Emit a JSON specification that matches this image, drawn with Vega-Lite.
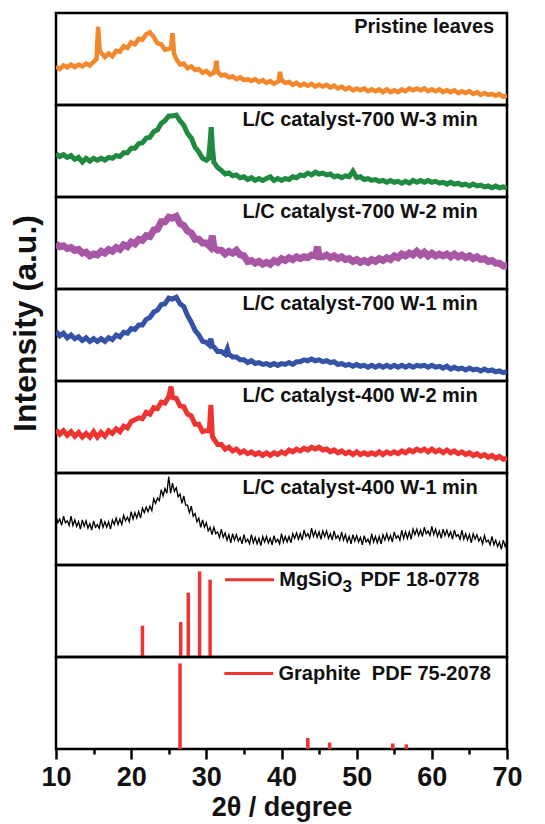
{
"$schema": "https://vega.github.io/schema/vega-lite/v6.json",
"autosize": {"type": "pad"},
"padding": {"left": 7, "top": 11, "right": 0, "bottom": 0},
"spacing": 0,
"bounds": "flush",
"config": {"view": {"stroke": "black", "strokeWidth": 2.5}, "font": "Liberation Sans", "concat": {"spacing": 0}},
"datasets": {
"p1": [{"x":10,"y":42},{"x":10.5,"y":39},{"x":11,"y":43},{"x":11.5,"y":41},{"x":12,"y":44},{"x":12.5,"y":41},{"x":13,"y":44},{"x":13.5,"y":42},{"x":14,"y":45},{"x":14.5,"y":43},{"x":15,"y":47},{"x":15.4,"y":50},{"x":15.6,"y":85},{"x":15.8,"y":60},{"x":16,"y":57},{"x":16.5,"y":52},{"x":17,"y":56},{"x":17.5,"y":53},{"x":18,"y":59},{"x":18.5,"y":58},{"x":19,"y":64},{"x":19.5,"y":62},{"x":20,"y":68},{"x":20.5,"y":66},{"x":21,"y":72},{"x":21.5,"y":71},{"x":22,"y":77},{"x":22.5,"y":79},{"x":23,"y":74},{"x":23.5,"y":67},{"x":24,"y":66},{"x":24.5,"y":60},{"x":25,"y":61},{"x":25.3,"y":62},{"x":25.5,"y":78},{"x":25.7,"y":56},{"x":26,"y":50},{"x":26.5,"y":44},{"x":27,"y":45},{"x":27.5,"y":40},{"x":28,"y":42},{"x":28.5,"y":38},{"x":29,"y":39},{"x":29.5,"y":35},{"x":30,"y":37},{"x":30.5,"y":33},{"x":31,"y":35},{"x":31.2,"y":40},{"x":31.35,"y":48},{"x":31.5,"y":36},{"x":32,"y":32},{"x":32.5,"y":33},{"x":33,"y":30},{"x":33.5,"y":31},{"x":34,"y":28},{"x":34.5,"y":30},{"x":35,"y":27},{"x":35.5,"y":28},{"x":36,"y":26},{"x":36.5,"y":28},{"x":37,"y":25},{"x":37.5,"y":27},{"x":38,"y":24},{"x":38.5,"y":26},{"x":39,"y":23},{"x":39.6,"y":26},{"x":39.8,"y":36},{"x":40,"y":27},{"x":40.5,"y":24},{"x":41,"y":25},{"x":41.5,"y":22},{"x":42,"y":24},{"x":42.5,"y":21},{"x":43,"y":23},{"x":43.5,"y":21},{"x":44,"y":23},{"x":44.5,"y":20},{"x":45,"y":22},{"x":45.5,"y":20},{"x":46,"y":22},{"x":46.5,"y":19},{"x":47,"y":21},{"x":47.5,"y":18},{"x":48,"y":20},{"x":48.5,"y":17},{"x":49,"y":19},{"x":49.5,"y":16},{"x":50,"y":18},{"x":50.5,"y":16},{"x":51,"y":18},{"x":51.5,"y":15},{"x":52,"y":17},{"x":52.5,"y":15},{"x":53,"y":17},{"x":53.5,"y":14},{"x":54,"y":17},{"x":54.5,"y":14},{"x":55,"y":16},{"x":55.5,"y":14},{"x":56,"y":17},{"x":56.5,"y":15},{"x":57,"y":18},{"x":57.5,"y":16},{"x":58,"y":18},{"x":58.5,"y":16},{"x":59,"y":18},{"x":59.5,"y":15},{"x":60,"y":17},{"x":60.5,"y":15},{"x":61,"y":17},{"x":61.5,"y":14},{"x":62,"y":16},{"x":62.5,"y":14},{"x":63,"y":16},{"x":63.5,"y":13},{"x":64,"y":15},{"x":64.5,"y":13},{"x":65,"y":15},{"x":65.5,"y":12},{"x":66,"y":14},{"x":66.5,"y":11},{"x":67,"y":13},{"x":67.5,"y":11},{"x":68,"y":12},{"x":68.5,"y":10},{"x":69,"y":12},{"x":69.5,"y":9},{"x":70,"y":10}],
"p2": [{"x":10,"y":47},{"x":10.5,"y":44},{"x":11,"y":46},{"x":11.5,"y":43},{"x":12,"y":45},{"x":12.5,"y":41},{"x":13,"y":43},{"x":13.5,"y":38},{"x":14,"y":42},{"x":14.5,"y":39},{"x":15,"y":42},{"x":15.5,"y":40},{"x":16,"y":42},{"x":16.5,"y":40},{"x":17,"y":43},{"x":17.5,"y":42},{"x":18,"y":45},{"x":18.5,"y":44},{"x":19,"y":48},{"x":19.5,"y":48},{"x":20,"y":53},{"x":20.5,"y":53},{"x":21,"y":58},{"x":21.5,"y":59},{"x":22,"y":64},{"x":22.5,"y":65},{"x":23,"y":71},{"x":23.5,"y":73},{"x":24,"y":80},{"x":24.5,"y":83},{"x":25,"y":88},{"x":25.5,"y":88},{"x":26,"y":89},{"x":26.5,"y":83},{"x":27,"y":78},{"x":27.5,"y":69},{"x":28,"y":64},{"x":28.5,"y":54},{"x":29,"y":49},{"x":29.5,"y":42},{"x":30,"y":40},{"x":30.3,"y":42},{"x":30.5,"y":60},{"x":30.65,"y":76},{"x":30.8,"y":55},{"x":31,"y":38},{"x":31.5,"y":32},{"x":32,"y":29},{"x":32.5,"y":25},{"x":33,"y":26},{"x":33.5,"y":23},{"x":34,"y":24},{"x":34.5,"y":21},{"x":35,"y":22},{"x":35.5,"y":19},{"x":36,"y":21},{"x":36.5,"y":18},{"x":37,"y":20},{"x":37.5,"y":18},{"x":38,"y":20},{"x":38.5,"y":22},{"x":39,"y":18},{"x":39.5,"y":20},{"x":40,"y":18},{"x":40.5,"y":20},{"x":41,"y":19},{"x":41.5,"y":22},{"x":42,"y":21},{"x":42.5,"y":24},{"x":43,"y":23},{"x":43.5,"y":26},{"x":44,"y":24},{"x":44.5,"y":27},{"x":45,"y":25},{"x":45.5,"y":26},{"x":46,"y":24},{"x":46.5,"y":25},{"x":47,"y":22},{"x":47.5,"y":23},{"x":48,"y":21},{"x":48.5,"y":23},{"x":49,"y":22},{"x":49.5,"y":28},{"x":50,"y":21},{"x":50.5,"y":22},{"x":51,"y":19},{"x":51.5,"y":20},{"x":52,"y":18},{"x":52.5,"y":19},{"x":53,"y":17},{"x":53.5,"y":18},{"x":54,"y":16},{"x":54.5,"y":18},{"x":55,"y":16},{"x":55.5,"y":17},{"x":56,"y":15},{"x":56.5,"y":17},{"x":57,"y":15},{"x":57.5,"y":18},{"x":58,"y":16},{"x":58.5,"y":18},{"x":59,"y":16},{"x":59.5,"y":18},{"x":60,"y":16},{"x":60.5,"y":17},{"x":61,"y":15},{"x":61.5,"y":16},{"x":62,"y":14},{"x":62.5,"y":16},{"x":63,"y":14},{"x":63.5,"y":15},{"x":64,"y":13},{"x":64.5,"y":14},{"x":65,"y":12},{"x":65.5,"y":14},{"x":66,"y":12},{"x":66.5,"y":13},{"x":67,"y":11},{"x":67.5,"y":12},{"x":68,"y":10},{"x":68.5,"y":12},{"x":69,"y":10},{"x":69.5,"y":11},{"x":70,"y":10}],
"p3": [{"x":10,"y":49},{"x":10.5,"y":46},{"x":11,"y":47},{"x":11.5,"y":44},{"x":12,"y":45},{"x":12.5,"y":42},{"x":13,"y":43},{"x":13.5,"y":39},{"x":14,"y":40},{"x":14.5,"y":36},{"x":15,"y":38},{"x":15.5,"y":37},{"x":16,"y":41},{"x":16.5,"y":39},{"x":17,"y":43},{"x":17.5,"y":41},{"x":18,"y":45},{"x":18.5,"y":43},{"x":19,"y":48},{"x":19.5,"y":46},{"x":20,"y":51},{"x":20.5,"y":49},{"x":21,"y":54},{"x":21.5,"y":53},{"x":22,"y":58},{"x":22.5,"y":57},{"x":23,"y":64},{"x":23.5,"y":65},{"x":24,"y":73},{"x":24.5,"y":73},{"x":25,"y":78},{"x":25.5,"y":77},{"x":26,"y":79},{"x":26.5,"y":71},{"x":27,"y":69},{"x":27.5,"y":63},{"x":28,"y":61},{"x":28.5,"y":54},{"x":29,"y":54},{"x":29.5,"y":50},{"x":30,"y":50},{"x":30.5,"y":46},{"x":30.8,"y":58},{"x":31,"y":45},{"x":31.5,"y":42},{"x":32,"y":42},{"x":32.5,"y":38},{"x":33,"y":41},{"x":33.5,"y":39},{"x":34,"y":42},{"x":34.5,"y":37},{"x":35,"y":36},{"x":35.5,"y":30},{"x":36,"y":31},{"x":36.5,"y":28},{"x":37,"y":30},{"x":37.5,"y":27},{"x":38,"y":29},{"x":38.5,"y":27},{"x":39,"y":31},{"x":39.5,"y":29},{"x":40,"y":33},{"x":40.5,"y":31},{"x":41,"y":34},{"x":41.5,"y":32},{"x":42,"y":35},{"x":42.5,"y":33},{"x":43,"y":35},{"x":43.5,"y":34},{"x":44,"y":37},{"x":44.5,"y":36},{"x":44.8,"y":46},{"x":45,"y":35},{"x":45.5,"y":35},{"x":46,"y":37},{"x":46.5,"y":34},{"x":47,"y":36},{"x":47.5,"y":33},{"x":48,"y":35},{"x":48.5,"y":32},{"x":49,"y":33},{"x":49.5,"y":30},{"x":50,"y":32},{"x":50.5,"y":29},{"x":51,"y":31},{"x":51.5,"y":29},{"x":52,"y":32},{"x":52.5,"y":30},{"x":53,"y":33},{"x":53.5,"y":31},{"x":54,"y":34},{"x":54.5,"y":32},{"x":55,"y":36},{"x":55.5,"y":34},{"x":56,"y":38},{"x":56.5,"y":36},{"x":57,"y":39},{"x":57.5,"y":37},{"x":58,"y":41},{"x":58.5,"y":37},{"x":59,"y":40},{"x":59.5,"y":36},{"x":60,"y":39},{"x":60.5,"y":36},{"x":61,"y":38},{"x":61.5,"y":36},{"x":62,"y":38},{"x":62.5,"y":35},{"x":63,"y":38},{"x":63.5,"y":35},{"x":64,"y":37},{"x":64.5,"y":34},{"x":65,"y":36},{"x":65.5,"y":33},{"x":66,"y":35},{"x":66.5,"y":32},{"x":67,"y":33},{"x":67.5,"y":30},{"x":68,"y":31},{"x":68.5,"y":28},{"x":69,"y":28},{"x":69.5,"y":25},{"x":70,"y":25}],
"p4": [{"x":10,"y":54},{"x":10.5,"y":49},{"x":11,"y":52},{"x":11.5,"y":47},{"x":12,"y":50},{"x":12.5,"y":46},{"x":13,"y":48},{"x":13.5,"y":44},{"x":14,"y":47},{"x":14.5,"y":43},{"x":15,"y":46},{"x":15.5,"y":43},{"x":16,"y":46},{"x":16.5,"y":43},{"x":17,"y":47},{"x":17.5,"y":45},{"x":18,"y":50},{"x":18.5,"y":48},{"x":19,"y":53},{"x":19.5,"y":52},{"x":20,"y":57},{"x":20.5,"y":56},{"x":21,"y":61},{"x":21.5,"y":61},{"x":22,"y":67},{"x":22.5,"y":69},{"x":23,"y":75},{"x":23.5,"y":77},{"x":24,"y":83},{"x":24.5,"y":84},{"x":25,"y":90},{"x":25.5,"y":89},{"x":26,"y":91},{"x":26.5,"y":84},{"x":27,"y":81},{"x":27.5,"y":71},{"x":28,"y":64},{"x":28.5,"y":55},{"x":29,"y":50},{"x":29.5,"y":43},{"x":30,"y":42},{"x":30.4,"y":39},{"x":30.6,"y":46},{"x":30.8,"y":38},{"x":31,"y":37},{"x":31.5,"y":32},{"x":32,"y":32},{"x":32.5,"y":29},{"x":32.8,"y":35},{"x":33,"y":29},{"x":33.5,"y":26},{"x":34,"y":26},{"x":34.5,"y":23},{"x":35,"y":23},{"x":35.5,"y":20},{"x":36,"y":22},{"x":36.5,"y":19},{"x":37,"y":20},{"x":37.5,"y":18},{"x":38,"y":19},{"x":38.5,"y":17},{"x":39,"y":19},{"x":39.5,"y":17},{"x":40,"y":19},{"x":40.5,"y":18},{"x":41,"y":20},{"x":41.5,"y":18},{"x":42,"y":21},{"x":42.5,"y":21},{"x":43,"y":23},{"x":43.5,"y":22},{"x":44,"y":24},{"x":44.5,"y":22},{"x":45,"y":23},{"x":45.5,"y":21},{"x":46,"y":22},{"x":46.5,"y":20},{"x":47,"y":21},{"x":47.5,"y":18},{"x":48,"y":19},{"x":48.5,"y":17},{"x":49,"y":18},{"x":49.5,"y":16},{"x":50,"y":18},{"x":50.5,"y":16},{"x":51,"y":17},{"x":51.5,"y":15},{"x":52,"y":17},{"x":52.5,"y":15},{"x":53,"y":17},{"x":53.5,"y":15},{"x":54,"y":17},{"x":54.5,"y":15},{"x":55,"y":17},{"x":55.5,"y":15},{"x":56,"y":17},{"x":56.5,"y":15},{"x":57,"y":17},{"x":57.5,"y":15},{"x":58,"y":17},{"x":58.5,"y":16},{"x":59,"y":17},{"x":59.5,"y":15},{"x":60,"y":17},{"x":60.5,"y":15},{"x":61,"y":16},{"x":61.5,"y":14},{"x":62,"y":16},{"x":62.5,"y":13},{"x":63,"y":15},{"x":63.5,"y":13},{"x":64,"y":14},{"x":64.5,"y":12},{"x":65,"y":14},{"x":65.5,"y":12},{"x":66,"y":13},{"x":66.5,"y":11},{"x":67,"y":13},{"x":67.5,"y":11},{"x":68,"y":12},{"x":68.5,"y":10},{"x":69,"y":11},{"x":69.5,"y":9},{"x":70,"y":10}],
"p5": [{"x":10,"y":47},{"x":10.5,"y":42},{"x":11,"y":46},{"x":11.5,"y":41},{"x":12,"y":45},{"x":12.5,"y":40},{"x":13,"y":44},{"x":13.5,"y":39},{"x":14,"y":43},{"x":14.5,"y":39},{"x":15,"y":45},{"x":15.5,"y":39},{"x":16,"y":44},{"x":16.5,"y":40},{"x":17,"y":46},{"x":17.5,"y":43},{"x":18,"y":48},{"x":18.5,"y":45},{"x":19,"y":51},{"x":19.5,"y":49},{"x":20,"y":56},{"x":20.5,"y":58},{"x":21,"y":60},{"x":21.5,"y":59},{"x":22,"y":66},{"x":22.5,"y":64},{"x":23,"y":71},{"x":23.5,"y":70},{"x":24,"y":77},{"x":24.5,"y":76},{"x":25,"y":83},{"x":25.3,"y":94},{"x":25.5,"y":82},{"x":26,"y":81},{"x":26.5,"y":73},{"x":27,"y":72},{"x":27.5,"y":64},{"x":28,"y":62},{"x":28.5,"y":53},{"x":29,"y":53},{"x":29.5,"y":45},{"x":30,"y":46},{"x":30.4,"y":46},{"x":30.6,"y":74},{"x":30.8,"y":40},{"x":31,"y":37},{"x":31.5,"y":31},{"x":32,"y":31},{"x":32.5,"y":26},{"x":33,"y":28},{"x":33.5,"y":24},{"x":34,"y":26},{"x":34.5,"y":22},{"x":35,"y":24},{"x":35.5,"y":21},{"x":36,"y":23},{"x":36.5,"y":20},{"x":37,"y":22},{"x":37.5,"y":19},{"x":38,"y":22},{"x":38.5,"y":19},{"x":39,"y":22},{"x":39.5,"y":20},{"x":40,"y":23},{"x":40.5,"y":21},{"x":41,"y":25},{"x":41.5,"y":23},{"x":42,"y":26},{"x":42.5,"y":24},{"x":43,"y":27},{"x":43.5,"y":25},{"x":44,"y":28},{"x":44.5,"y":26},{"x":45,"y":28},{"x":45.5,"y":25},{"x":46,"y":26},{"x":46.5,"y":23},{"x":47,"y":25},{"x":47.5,"y":22},{"x":48,"y":24},{"x":48.5,"y":21},{"x":49,"y":23},{"x":49.5,"y":20},{"x":50,"y":23},{"x":50.5,"y":20},{"x":51,"y":22},{"x":51.5,"y":20},{"x":52,"y":22},{"x":52.5,"y":20},{"x":53,"y":23},{"x":53.5,"y":20},{"x":54,"y":23},{"x":54.5,"y":21},{"x":55,"y":23},{"x":55.5,"y":21},{"x":56,"y":24},{"x":56.5,"y":22},{"x":57,"y":25},{"x":57.5,"y":23},{"x":58,"y":26},{"x":58.5,"y":24},{"x":59,"y":26},{"x":59.5,"y":23},{"x":60,"y":26},{"x":60.5,"y":23},{"x":61,"y":25},{"x":61.5,"y":22},{"x":62,"y":25},{"x":62.5,"y":22},{"x":63,"y":24},{"x":63.5,"y":21},{"x":64,"y":23},{"x":64.5,"y":20},{"x":65,"y":22},{"x":65.5,"y":19},{"x":66,"y":21},{"x":66.5,"y":18},{"x":67,"y":20},{"x":67.5,"y":17},{"x":68,"y":19},{"x":68.5,"y":16},{"x":69,"y":18},{"x":69.5,"y":15},{"x":70,"y":16}],
"p6": [{"x":10,"y":53},{"x":10.25,"y":46},{"x":10.5,"y":50},{"x":10.75,"y":43},{"x":11,"y":53},{"x":11.25,"y":46},{"x":11.5,"y":48},{"x":11.75,"y":43},{"x":12,"y":53},{"x":12.25,"y":43},{"x":12.5,"y":49},{"x":12.75,"y":42},{"x":13,"y":47},{"x":13.25,"y":39},{"x":13.5,"y":49},{"x":13.75,"y":42},{"x":14,"y":48},{"x":14.25,"y":40},{"x":14.5,"y":45},{"x":14.75,"y":38},{"x":15,"y":48},{"x":15.25,"y":41},{"x":15.5,"y":44},{"x":15.75,"y":40},{"x":16,"y":50},{"x":16.25,"y":41},{"x":16.5,"y":47},{"x":16.75,"y":41},{"x":17,"y":47},{"x":17.25,"y":39},{"x":17.5,"y":49},{"x":17.75,"y":44},{"x":18,"y":51},{"x":18.25,"y":44},{"x":18.5,"y":50},{"x":18.75,"y":44},{"x":19,"y":54},{"x":19.25,"y":48},{"x":19.5,"y":52},{"x":19.75,"y":47},{"x":20,"y":58},{"x":20.25,"y":50},{"x":20.5,"y":57},{"x":20.75,"y":51},{"x":21,"y":58},{"x":21.25,"y":51},{"x":21.5,"y":62},{"x":21.75,"y":57},{"x":22,"y":63},{"x":22.25,"y":58},{"x":22.5,"y":64},{"x":22.75,"y":59},{"x":23,"y":72},{"x":23.25,"y":67},{"x":23.5,"y":73},{"x":23.75,"y":70},{"x":24,"y":82},{"x":24.25,"y":75},{"x":24.5,"y":83},{"x":24.75,"y":78},{"x":25,"y":96},{"x":25.25,"y":78},{"x":25.5,"y":89},{"x":25.75,"y":80},{"x":26,"y":84},{"x":26.25,"y":74},{"x":26.5,"y":77},{"x":26.75,"y":67},{"x":27,"y":75},{"x":27.25,"y":65},{"x":27.5,"y":65},{"x":27.75,"y":57},{"x":28,"y":64},{"x":28.25,"y":53},{"x":28.5,"y":56},{"x":28.75,"y":47},{"x":29,"y":51},{"x":29.25,"y":41},{"x":29.5,"y":49},{"x":29.75,"y":41},{"x":30,"y":46},{"x":30.25,"y":37},{"x":30.5,"y":41},{"x":30.75,"y":33},{"x":31,"y":41},{"x":31.25,"y":34},{"x":31.5,"y":36},{"x":31.75,"y":30},{"x":32,"y":39},{"x":32.25,"y":30},{"x":32.5,"y":35},{"x":32.75,"y":27},{"x":33,"y":33},{"x":33.25,"y":24},{"x":33.5,"y":34},{"x":33.75,"y":27},{"x":34,"y":33},{"x":34.25,"y":26},{"x":34.5,"y":30},{"x":34.75,"y":23},{"x":35,"y":33},{"x":35.25,"y":25},{"x":35.5,"y":28},{"x":35.75,"y":23},{"x":36,"y":33},{"x":36.25,"y":24},{"x":36.5,"y":30},{"x":36.75,"y":23},{"x":37,"y":29},{"x":37.25,"y":21},{"x":37.5,"y":31},{"x":37.75,"y":25},{"x":38,"y":31},{"x":38.25,"y":24},{"x":38.5,"y":29},{"x":38.75,"y":22},{"x":39,"y":32},{"x":39.25,"y":25},{"x":39.5,"y":28},{"x":39.75,"y":23},{"x":40,"y":34},{"x":40.25,"y":25},{"x":40.5,"y":31},{"x":40.75,"y":25},{"x":41,"y":31},{"x":41.25,"y":24},{"x":41.5,"y":34},{"x":41.75,"y":29},{"x":42,"y":35},{"x":42.25,"y":28},{"x":42.5,"y":34},{"x":42.75,"y":27},{"x":43,"y":38},{"x":43.25,"y":31},{"x":43.5,"y":34},{"x":43.75,"y":29},{"x":44,"y":40},{"x":44.25,"y":31},{"x":44.5,"y":37},{"x":44.75,"y":30},{"x":45,"y":36},{"x":45.25,"y":28},{"x":45.5,"y":37},{"x":45.75,"y":31},{"x":46,"y":37},{"x":46.25,"y":29},{"x":46.5,"y":34},{"x":46.75,"y":27},{"x":47,"y":37},{"x":47.25,"y":29},{"x":47.5,"y":32},{"x":47.75,"y":27},{"x":48,"y":36},{"x":48.25,"y":27},{"x":48.5,"y":33},{"x":48.75,"y":25},{"x":49,"y":31},{"x":49.25,"y":23},{"x":49.5,"y":33},{"x":49.75,"y":26},{"x":50,"y":32},{"x":50.25,"y":25},{"x":50.5,"y":30},{"x":50.75,"y":22},{"x":51,"y":32},{"x":51.25,"y":25},{"x":51.5,"y":28},{"x":51.75,"y":23},{"x":52,"y":34},{"x":52.25,"y":25},{"x":52.5,"y":31},{"x":52.75,"y":24},{"x":53,"y":31},{"x":53.25,"y":23},{"x":53.5,"y":33},{"x":53.75,"y":27},{"x":54,"y":34},{"x":54.25,"y":27},{"x":54.5,"y":32},{"x":54.75,"y":25},{"x":55,"y":36},{"x":55.25,"y":29},{"x":55.5,"y":32},{"x":55.75,"y":27},{"x":56,"y":38},{"x":56.25,"y":29},{"x":56.5,"y":36},{"x":56.75,"y":29},{"x":57,"y":36},{"x":57.25,"y":28},{"x":57.5,"y":39},{"x":57.75,"y":33},{"x":58,"y":39},{"x":58.25,"y":32},{"x":58.5,"y":38},{"x":58.75,"y":31},{"x":59,"y":41},{"x":59.25,"y":34},{"x":59.5,"y":37},{"x":59.75,"y":32},{"x":60,"y":42},{"x":60.25,"y":33},{"x":60.5,"y":39},{"x":60.75,"y":31},{"x":61,"y":37},{"x":61.25,"y":29},{"x":61.5,"y":39},{"x":61.75,"y":32},{"x":62,"y":38},{"x":62.25,"y":31},{"x":62.5,"y":36},{"x":62.75,"y":28},{"x":63,"y":38},{"x":63.25,"y":31},{"x":63.5,"y":33},{"x":63.75,"y":28},{"x":64,"y":38},{"x":64.25,"y":28},{"x":64.5,"y":34},{"x":64.75,"y":27},{"x":65,"y":33},{"x":65.25,"y":24},{"x":65.5,"y":34},{"x":65.75,"y":28},{"x":66,"y":33},{"x":66.25,"y":26},{"x":66.5,"y":30},{"x":66.75,"y":23},{"x":67,"y":32},{"x":67.25,"y":25},{"x":67.5,"y":27},{"x":67.75,"y":22},{"x":68,"y":31},{"x":68.25,"y":22},{"x":68.5,"y":27},{"x":68.75,"y":20},{"x":69,"y":25},{"x":69.25,"y":17},{"x":69.5,"y":27},{"x":69.75,"y":20},{"x":70,"y":26}],
"p7": [{"x":21.5,"h":34},{"x":26.6,"h":38},{"x":27.6,"h":70},{"x":29.1,"h":93},{"x":30.5,"h":84}],
"p8": [{"x":26.5,"h":93},{"x":43.5,"h":12},{"x":46.4,"h":7},{"x":54.8,"h":6},{"x":56.6,"h":5}]
},
"vconcat": [
{"width": 451, "height": 92, "layer": [
 {"data": {"name": "p1"}, "mark": {"type": "line", "color": "#f4872c", "strokeWidth": 4.5, "clip": true},
  "encoding": {"x": {"field": "x", "type": "quantitative", "scale": {"domain": [10, 70]}, "axis": null}, "y": {"field": "y", "type": "quantitative", "scale": {"domain": [0, 100]}, "axis": null}}},
 {"data": {"values": [{"t": "Pristine leaves"}]}, "mark": {"type": "text", "fontSize": 20, "fontWeight": "bold", "align": "right", "baseline": "middle", "color": "#111"},
  "encoding": {"text": {"field": "t"}, "x": {"datum": 68.3, "axis": null}, "y": {"datum": 85, "axis": null}}}
]},
{"width": 451, "height": 92, "layer": [
 {"data": {"name": "p2"}, "mark": {"type": "line", "color": "#1f8a40", "strokeWidth": 5, "clip": true},
  "encoding": {"x": {"field": "x", "type": "quantitative", "scale": {"domain": [10, 70]}, "axis": null}, "y": {"field": "y", "type": "quantitative", "scale": {"domain": [0, 100]}, "axis": null}}},
 {"data": {"values": [{"t": "L/C catalyst-700 W-3 min"}]}, "mark": {"type": "text", "fontSize": 20, "fontWeight": "bold", "align": "left", "baseline": "middle", "color": "#111"},
  "encoding": {"text": {"field": "t"}, "x": {"datum": 34.8, "axis": null}, "y": {"datum": 84, "axis": null}}}
]},
{"width": 451, "height": 92, "layer": [
 {"data": {"name": "p3"}, "mark": {"type": "line", "color": "#a857a4", "strokeWidth": 7, "clip": true},
  "encoding": {"x": {"field": "x", "type": "quantitative", "scale": {"domain": [10, 70]}, "axis": null}, "y": {"field": "y", "type": "quantitative", "scale": {"domain": [0, 100]}, "axis": null}}},
 {"data": {"values": [{"t": "L/C catalyst-700 W-2 min"}]}, "mark": {"type": "text", "fontSize": 20, "fontWeight": "bold", "align": "left", "baseline": "middle", "color": "#111"},
  "encoding": {"text": {"field": "t"}, "x": {"datum": 34.8, "axis": null}, "y": {"datum": 84, "axis": null}}}
]},
{"width": 451, "height": 92, "layer": [
 {"data": {"name": "p4"}, "mark": {"type": "line", "color": "#3553a6", "strokeWidth": 5, "clip": true},
  "encoding": {"x": {"field": "x", "type": "quantitative", "scale": {"domain": [10, 70]}, "axis": null}, "y": {"field": "y", "type": "quantitative", "scale": {"domain": [0, 100]}, "axis": {"title": "Intensity (a.u.)", "labels": false, "ticks": false, "domain": false, "grid": false, "titleFontSize": 32, "titleFontWeight": "bold", "titleColor": "#111", "titlePadding": 14, "titleY": 34}}}},
 {"data": {"values": [{"t": "L/C catalyst-700 W-1 min"}]}, "mark": {"type": "text", "fontSize": 20, "fontWeight": "bold", "align": "left", "baseline": "middle", "color": "#111"},
  "encoding": {"text": {"field": "t"}, "x": {"datum": 34.8, "axis": null}, "y": {"datum": 84}}}
]},
{"width": 451, "height": 92, "layer": [
 {"data": {"name": "p5"}, "mark": {"type": "line", "color": "#ee3431", "strokeWidth": 5, "clip": true},
  "encoding": {"x": {"field": "x", "type": "quantitative", "scale": {"domain": [10, 70]}, "axis": null}, "y": {"field": "y", "type": "quantitative", "scale": {"domain": [0, 100]}, "axis": null}}},
 {"data": {"values": [{"t": "L/C catalyst-400 W-2 min"}]}, "mark": {"type": "text", "fontSize": 20, "fontWeight": "bold", "align": "left", "baseline": "middle", "color": "#111"},
  "encoding": {"text": {"field": "t"}, "x": {"datum": 34.8, "axis": null}, "y": {"datum": 84, "axis": null}}}
]},
{"width": 451, "height": 92, "layer": [
 {"data": {"name": "p6"}, "mark": {"type": "line", "color": "#000000", "strokeWidth": 1.3, "clip": true},
  "encoding": {"x": {"field": "x", "type": "quantitative", "scale": {"domain": [10, 70]}, "axis": null}, "y": {"field": "y", "type": "quantitative", "scale": {"domain": [0, 100]}, "axis": null}}},
 {"data": {"values": [{"t": "L/C catalyst-400 W-1 min"}]}, "mark": {"type": "text", "fontSize": 20, "fontWeight": "bold", "align": "left", "baseline": "middle", "color": "#111"},
  "encoding": {"text": {"field": "t"}, "x": {"datum": 34.8, "axis": null}, "y": {"datum": 84, "axis": null}}}
]},
{"width": 451, "height": 92, "layer": [
 {"data": {"name": "p7"}, "mark": {"type": "rule", "color": "#ee3431", "strokeWidth": 3.5},
  "encoding": {"x": {"field": "x", "type": "quantitative", "scale": {"domain": [10, 70]}, "axis": null}, "y": {"field": "h", "type": "quantitative", "scale": {"domain": [0, 100]}, "axis": null}, "y2": {"datum": 0}}},
 {"data": {"values": [{"t": "MgSiO3 PDF 18-0778"}]}, "mark": {"type": "rule", "color": "#ee3431", "strokeWidth": 3},
  "encoding": {"x": {"datum": 32.5, "axis": null}, "x2": {"datum": 39.0}, "y": {"datum": 84, "axis": null}}},
 {"data": {"values": [{"t": "MgSiO"}]}, "mark": {"type": "text", "fontSize": 20, "fontWeight": "bold", "align": "left", "baseline": "middle", "color": "#111"},
  "encoding": {"text": {"field": "t"}, "x": {"datum": 39.7, "axis": null}, "y": {"datum": 84, "axis": null}}},
 {"data": {"values": [{"t": "3"}]}, "mark": {"type": "text", "fontSize": 17, "fontWeight": "bold", "align": "left", "baseline": "middle", "color": "#111"},
  "encoding": {"text": {"field": "t"}, "x": {"datum": 48.1, "axis": null}, "y": {"datum": 76, "axis": null}}},
 {"data": {"values": [{"t": "PDF 18-0778"}]}, "mark": {"type": "text", "fontSize": 20, "fontWeight": "bold", "align": "left", "baseline": "middle", "color": "#111"},
  "encoding": {"text": {"field": "t"}, "x": {"datum": 50.5, "axis": null}, "y": {"datum": 84, "axis": null}}}
]},
{"width": 451, "height": 92, "resolve": {"axis": {"x": "independent"}}, "layer": [
 {"data": {"name": "p8"}, "mark": {"type": "rule", "color": "#ee3431", "strokeWidth": 3.5},
  "encoding": {"x": {"field": "x", "type": "quantitative", "scale": {"domain": [10, 70]}, "axis": {"orient": "bottom", "values": [10, 20, 30, 40, 50, 60, 70], "domain": false, "grid": false, "tickSize": 10, "tickWidth": 2.5, "tickColor": "black", "labelFontSize": 27, "labelFontWeight": "bold", "labelColor": "#111", "labelPadding": 5, "labelFlush": false, "title": "2θ / degree", "titleFontSize": 27, "titleFontWeight": "bold", "titleColor": "#111", "titlePadding": 4}}, "y": {"field": "h", "type": "quantitative", "scale": {"domain": [0, 100]}, "axis": null}, "y2": {"datum": 0}}},
 {"data": {"values": [{"t": "Graphite  PDF 75-2078"}]}, "mark": {"type": "rule", "color": "#ee3431", "strokeWidth": 3},
  "encoding": {"x": {"datum": 32.4, "type": "quantitative", "axis": {"orient": "bottom", "values": [15, 25, 35, 45, 55, 65], "domain": false, "grid": false, "labels": false, "tickSize": 5, "tickWidth": 2.5, "tickColor": "black", "title": null}}, "x2": {"datum": 38.9}, "y": {"datum": 82, "axis": null}}},
 {"data": {"values": [{"t": "Graphite\u00a0\u00a0PDF 75-2078"}]}, "mark": {"type": "text", "fontSize": 20, "fontWeight": "bold", "align": "left", "baseline": "middle", "color": "#111"},
  "encoding": {"text": {"field": "t"}, "x": {"datum": 39.6, "axis": null}, "y": {"datum": 82, "axis": null}}}
]}
]
}
